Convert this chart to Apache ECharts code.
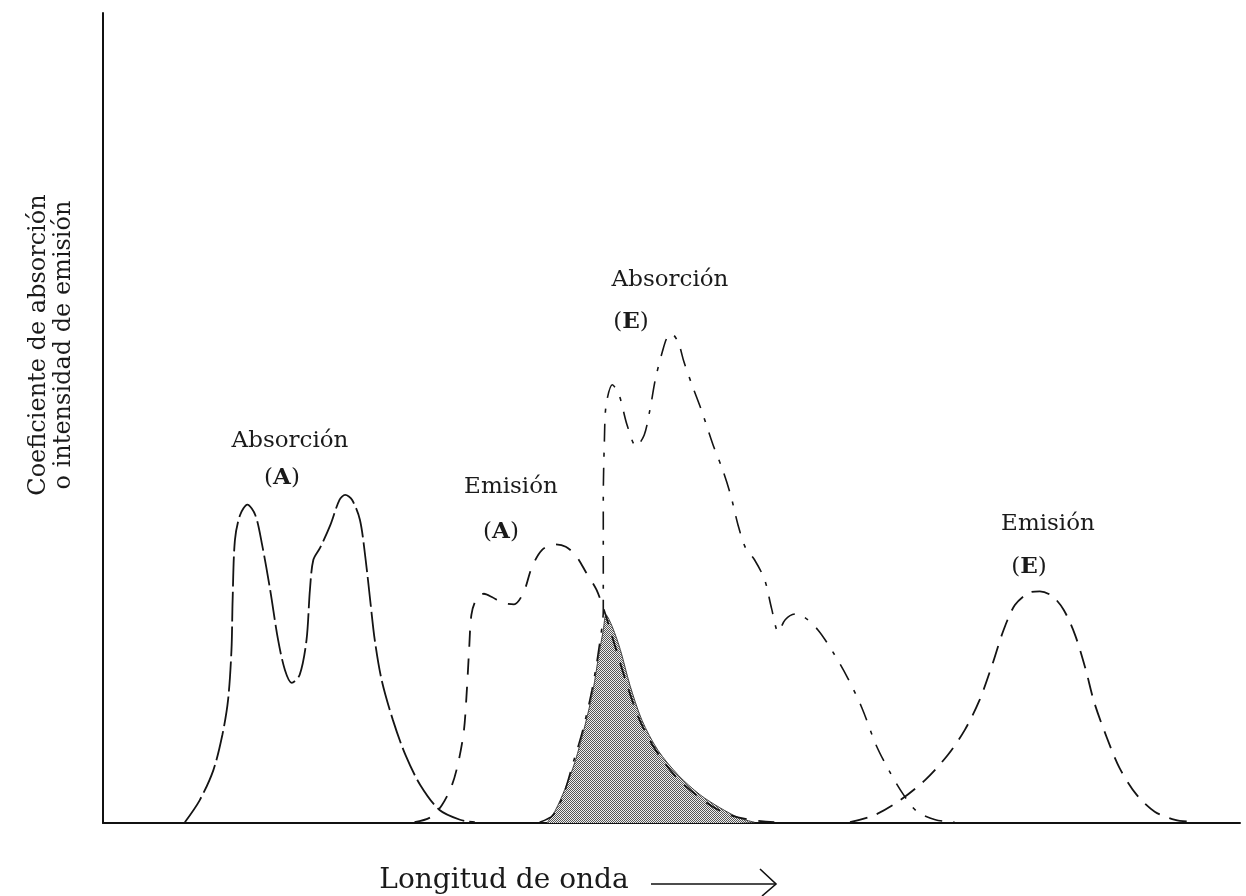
<!DOCTYPE html>
<html>
<head>
<meta charset="utf-8">
<script src="https://cdn.jsdelivr.net/npm/echarts@6/dist/echarts.min.js"></script>
<style>html,body{margin:0;padding:0;background:#fff;}#c{width:1246px;height:896px;}</style>
</head>
<body>
<div id="c"></div>
<script>
// Wavelength (arbitrary units 0-100) vs. coefficient / intensity (arbitrary units 0-100)
var absorcionA = [[7.2,0.1],[8.5,2.8],[9.7,6.5],[10.5,10.9],[11.0,15.2],[11.3,21.4],[11.4,27.5],[11.6,34.9],[12.05,38.0],[12.7,39.3],[13.4,38.0],[14.0,34.3],[14.7,28.8],[15.4,22.6],[16.0,18.9],[16.6,17.3],[17.3,18.3],[17.9,22.6],[18.2,28.8],[18.5,32.5],[19.1,34.0],[20.0,36.8],[20.8,39.9],[21.3,40.5],[21.9,39.9],[22.6,37.4],[23.1,32.5],[23.5,27.5],[23.9,22.6],[24.5,17.7],[25.5,12.7],[26.6,8.4],[27.9,4.7],[29.6,1.6],[31.4,0.4],[32.7,0.1]];
var emisionA = [[27.4,0.1],[28.8,0.7],[29.8,2.2],[30.7,4.7],[31.3,7.8],[31.75,11.5],[32.0,16.4],[32.2,21.4],[32.4,25.7],[32.8,27.5],[33.5,28.3],[34.2,27.9],[35.1,27.2],[36.15,27.0],[37.0,28.5],[37.7,31.5],[38.6,33.7],[39.75,34.4],[40.7,34.1],[41.6,33.0],[42.5,30.9],[43.4,28.8],[44.2,25.7],[45.0,22.0],[46.1,17.0],[47.2,12.7],[48.6,9.0],[50.4,5.7],[52.5,3.1],[54.7,1.2],[56.9,0.4],[59.1,0.1]];
var absorcionE = [[38.4,0.1],[39.6,1.0],[40.5,3.5],[41.3,7.2],[42.2,11.5],[43.0,16.4],[43.6,21.4],[44.0,26.3],[44.0,32.5],[44.0,39.9],[44.1,47.3],[44.25,51.6],[44.8,54.1],[45.4,52.8],[46.1,49.1],[46.9,46.5],[47.6,47.9],[48.1,51.0],[48.6,54.9],[49.2,58.2],[49.6,59.9],[50.0,60.4],[50.6,59.3],[51.1,56.9],[51.8,54.1],[52.7,50.7],[53.65,46.7],[54.5,43.6],[55.2,40.5],[55.85,36.8],[56.5,34.0],[57.3,32.5],[58.2,30.0],[58.8,26.5],[59.4,23.6],[60.0,25.1],[60.9,25.8],[61.7,25.4],[62.9,23.8],[64.2,21.1],[65.5,17.9],[66.75,14.2],[68.0,9.6],[69.2,6.3],[70.4,3.5],[71.6,1.4],[73.2,0.4],[74.9,0.1]];
var emisionE = [[65.7,0.1],[67.9,1.0],[70.1,2.8],[72.3,5.3],[74.3,8.4],[75.8,11.5],[77.1,15.2],[78.2,19.5],[79.2,23.8],[80.2,26.9],[81.4,28.4],[82.4,28.6],[83.5,28.0],[84.5,26.3],[85.5,23.2],[86.4,19.1],[87.2,14.8],[88.3,10.5],[89.4,6.8],[90.9,3.5],[92.5,1.4],[94.3,0.4],[96.0,0.1]];
var solapamiento = [[39.1,0.1],[39.8,1.6],[40.6,4.1],[41.5,7.5],[42.4,12.1],[43.1,16.4],[43.6,20.7],[44.0,23.8],[44.24,25.7],[44.8,24.2],[45.5,21.4],[46.35,17.0],[47.4,12.7],[48.8,9.0],[50.6,5.9],[52.5,3.5],[54.3,1.85],[56.0,0.6],[57.3,0.1]];
var textos = {
  absA: ['Absorción', 'A'],
  emA: ['Emisión', 'A'],
  absE: ['Absorción', 'E'],
  emE: ['Emisión', 'E'],
  ejeY: ['Coeficiente de absorción', 'o intensidad de emisión'],
  ejeX: 'Longitud de onda'
};

var FONT = '"DejaVu Serif", serif';
var pat = document.createElement('canvas');
pat.width = 2; pat.height = 2;
var pc = pat.getContext('2d');
pc.fillStyle = '#efefef'; pc.fillRect(0,0,2,2);
pc.fillStyle = '#555555';
pc.fillRect(0,0,1,1); pc.fillRect(1,1,1,1);

var chart = echarts.init(document.getElementById('c'), null, {renderer:'canvas'});
function lbl(x, y, t, size, extra) {
  return Object.assign({type:'text', x:x, y:y, style:{text:t, font:size + 'px ' + FONT, fill:'#1a1a1a', align:'center', verticalAlign:'middle'}}, extra || {});
}
function par(x, y, letter) {
  return {type:'text', x:x, y:y, style:{text:'(' + '{b|' + letter + '})', font:'23px ' + FONT, fill:'#1a1a1a', align:'center', verticalAlign:'middle',
    rich:{b:{font:'bold 23px ' + FONT, fill:'#1a1a1a'}}}};
}
var lineCol = '#141414';
chart.setOption({
  animation:false,
  backgroundColor:'#ffffff',
  grid:{left:103, right:6, top:13, bottom:73},
  xAxis:{type:'value', min:0, max:100, axisLine:{show:true, lineStyle:{color:'#111', width:2}}, axisTick:{show:false}, axisLabel:{show:false}, splitLine:{show:false}},
  yAxis:{type:'value', min:0, max:100, axisLine:{show:true, lineStyle:{color:'#111', width:2}}, axisTick:{show:false}, axisLabel:{show:false}, splitLine:{show:false}},
  series:[
    {name:'Solapamiento', type:'line', data:solapamiento, smooth:0.3, symbol:'none', lineStyle:{width:1, color:'#444'}, areaStyle:{color:{image:pat, repeat:'repeat'}, opacity:1}, z:1},
    {name:'Absorción (A)', type:'line', data:absorcionA, smooth:0.3, symbol:'none', lineStyle:{width:1.8, color:lineCol, type:[30,5]}, z:3},
    {name:'Emisión (A)', type:'line', data:emisionA, smooth:0.3, symbol:'none', lineStyle:{width:1.8, color:lineCol, type:[16,12]}, z:3},
    {name:'Absorción (E)', type:'line', data:absorcionE, smooth:0.3, symbol:'none', lineStyle:{width:1.6, color:lineCol, type:[18,11,4,11]}, z:3},
    {name:'Emisión (E)', type:'line', data:emisionE, smooth:0.3, symbol:'none', lineStyle:{width:1.8, color:lineCol, type:[18,10]}, z:3}
  ],
  graphic:[
    lbl(290, 441, textos.absA[0], 23), par(282, 478, textos.absA[1]),
    lbl(511, 487, textos.emA[0], 23), par(501, 532, textos.emA[1]),
    lbl(670, 280, textos.absE[0], 23), par(631, 322, textos.absE[1]),
    lbl(1048, 524, textos.emE[0], 23), par(1029, 567, textos.emE[1]),
    lbl(39, 345, textos.ejeY[0], 24, {rotation:Math.PI/2}),
    lbl(64, 345, textos.ejeY[1], 24, {rotation:Math.PI/2}),
    lbl(504, 881, textos.ejeX, 28),
    {type:'line', shape:{x1:651, y1:884, x2:775, y2:884}, style:{stroke:'#111', lineWidth:1.6}},
    {type:'polyline', shape:{points:[[760,869],[776,884],[762,896]]}, style:{stroke:'#111', lineWidth:1.6, fill:null}}
  ]
});
</script>
</body>
</html>
